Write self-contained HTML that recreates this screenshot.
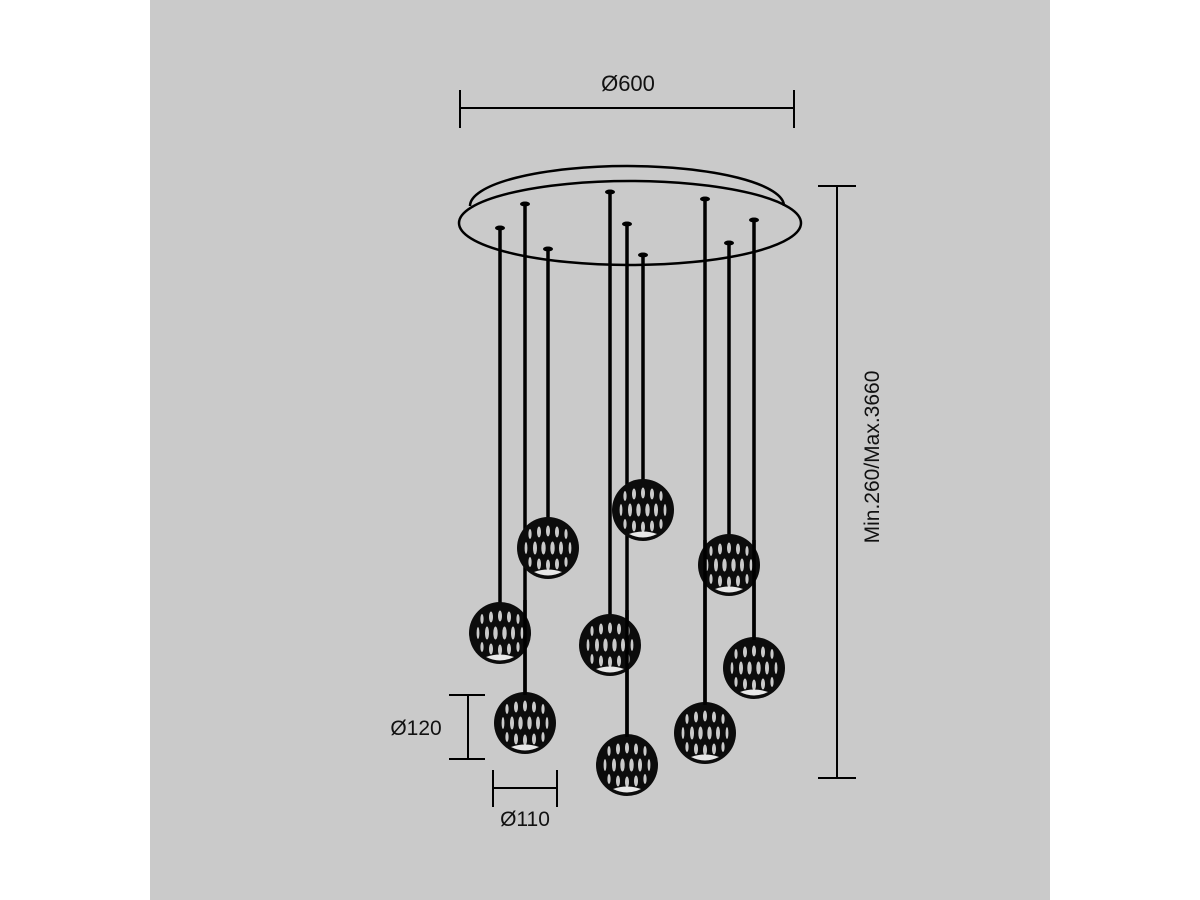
<!DOCTYPE html>
<html><head><style>
html,body{margin:0;padding:0;background:#fff;}
svg{display:block;}
text{font-family:"Liberation Sans",sans-serif;fill:#111;}
</style></head><body>
<svg width="1200" height="900" viewBox="0 0 1200 900">
<defs>
<clipPath id="c"><circle cx="0" cy="0" r="27"/></clipPath>
<g id="ball">
<circle cx="0" cy="0" r="31" fill="#0c0c0c"/>
<g clip-path="url(#c)" fill="#cacaca">
<ellipse cx="-18" cy="-14" rx="1.6" ry="5"/><ellipse cx="-9" cy="-16" rx="2" ry="5.5"/><ellipse cx="0" cy="-17" rx="2" ry="5.5"/><ellipse cx="9" cy="-16" rx="2" ry="5.5"/><ellipse cx="18" cy="-14" rx="1.6" ry="5"/>
<ellipse cx="-22" cy="0" rx="1.4" ry="6"/><ellipse cx="-13" cy="0" rx="2" ry="6.5"/><ellipse cx="-4.5" cy="0" rx="2.2" ry="6.5"/><ellipse cx="4.5" cy="0" rx="2.2" ry="6.5"/><ellipse cx="13" cy="0" rx="2" ry="6.5"/><ellipse cx="22" cy="0" rx="1.4" ry="6"/>
<ellipse cx="-18" cy="14" rx="1.6" ry="5"/><ellipse cx="-9" cy="16" rx="2" ry="5.5"/><ellipse cx="0" cy="17" rx="2" ry="5.5"/><ellipse cx="9" cy="16" rx="2" ry="5.5"/><ellipse cx="18" cy="14" rx="1.6" ry="5"/>
</g>
<path d="M-14 24 Q0 19 14 24 Q0 31 -14 24Z" fill="#e8e8e8"/>
</g>
</defs>
<rect x="150" y="0" width="900" height="900" fill="#cacaca"/>
<!-- canopy -->
<path d="M470 206 A157 40 0 0 1 784 206" fill="none" stroke="#000" stroke-width="2.5"/>
<ellipse cx="630" cy="223" rx="171" ry="42" fill="none" stroke="#000" stroke-width="2.5"/>
<g stroke="#000" stroke-width="3.5">
<line x1="500" y1="228" x2="500" y2="605"/>
<line x1="525" y1="204" x2="525" y2="695"/>
<line x1="548" y1="249" x2="548" y2="520"/>
<line x1="610" y1="192" x2="610" y2="617"/>
<line x1="627" y1="224" x2="627" y2="737"/>
<line x1="643" y1="255" x2="643" y2="482"/>
<line x1="705" y1="199" x2="705" y2="705"/>
<line x1="729" y1="243" x2="729" y2="537"/>
<line x1="754" y1="220" x2="754" y2="640"/>
</g>
<g fill="#000">
<ellipse cx="500" cy="228" rx="5" ry="2.5"/><ellipse cx="525" cy="204" rx="5" ry="2.5"/><ellipse cx="548" cy="249" rx="5" ry="2.5"/>
<ellipse cx="610" cy="192" rx="5" ry="2.5"/><ellipse cx="627" cy="224" rx="5" ry="2.5"/><ellipse cx="643" cy="255" rx="5" ry="2.5"/>
<ellipse cx="705" cy="199" rx="5" ry="2.5"/><ellipse cx="729" cy="243" rx="5" ry="2.5"/><ellipse cx="754" cy="220" rx="5" ry="2.5"/>
</g>
<use href="#ball" x="500" y="633"/>
<use href="#ball" x="525" y="723"/>
<use href="#ball" x="548" y="548"/>
<use href="#ball" x="610" y="645"/>
<use href="#ball" x="627" y="765"/>
<use href="#ball" x="643" y="510"/>
<use href="#ball" x="705" y="733"/>
<use href="#ball" x="729" y="565"/>
<use href="#ball" x="754" y="668"/>
<!-- redraw rods passing in front -->
<g stroke="#000" stroke-width="3.5">
<line x1="525" y1="600" x2="525" y2="695"/>
<line x1="627" y1="610" x2="627" y2="737"/>
<line x1="705" y1="540" x2="705" y2="705"/>
<line x1="754" y1="540" x2="754" y2="640"/>
</g>
<!-- dimensions -->
<g stroke="#000" stroke-width="2">
<line x1="460" y1="108" x2="794" y2="108"/><line x1="460" y1="90" x2="460" y2="128"/><line x1="794" y1="90" x2="794" y2="128"/>
<line x1="837" y1="186" x2="837" y2="778"/><line x1="818" y1="186" x2="856" y2="186"/><line x1="818" y1="778" x2="856" y2="778"/>
<line x1="468" y1="695" x2="468" y2="759"/><line x1="449" y1="695" x2="485" y2="695"/><line x1="449" y1="759" x2="485" y2="759"/>
<line x1="493" y1="788" x2="557" y2="788"/><line x1="493" y1="770" x2="493" y2="807"/><line x1="557" y1="770" x2="557" y2="807"/>
</g>
<text x="628" y="91" font-size="22" text-anchor="middle">Ø600</text>
<text x="416" y="735" font-size="21" text-anchor="middle">Ø120</text>
<text x="525" y="826" font-size="21" text-anchor="middle">Ø110</text>
<text transform="translate(879 457) rotate(-90)" font-size="21" text-anchor="middle">Min.260/Max.3660</text>
</svg>
</body></html>
